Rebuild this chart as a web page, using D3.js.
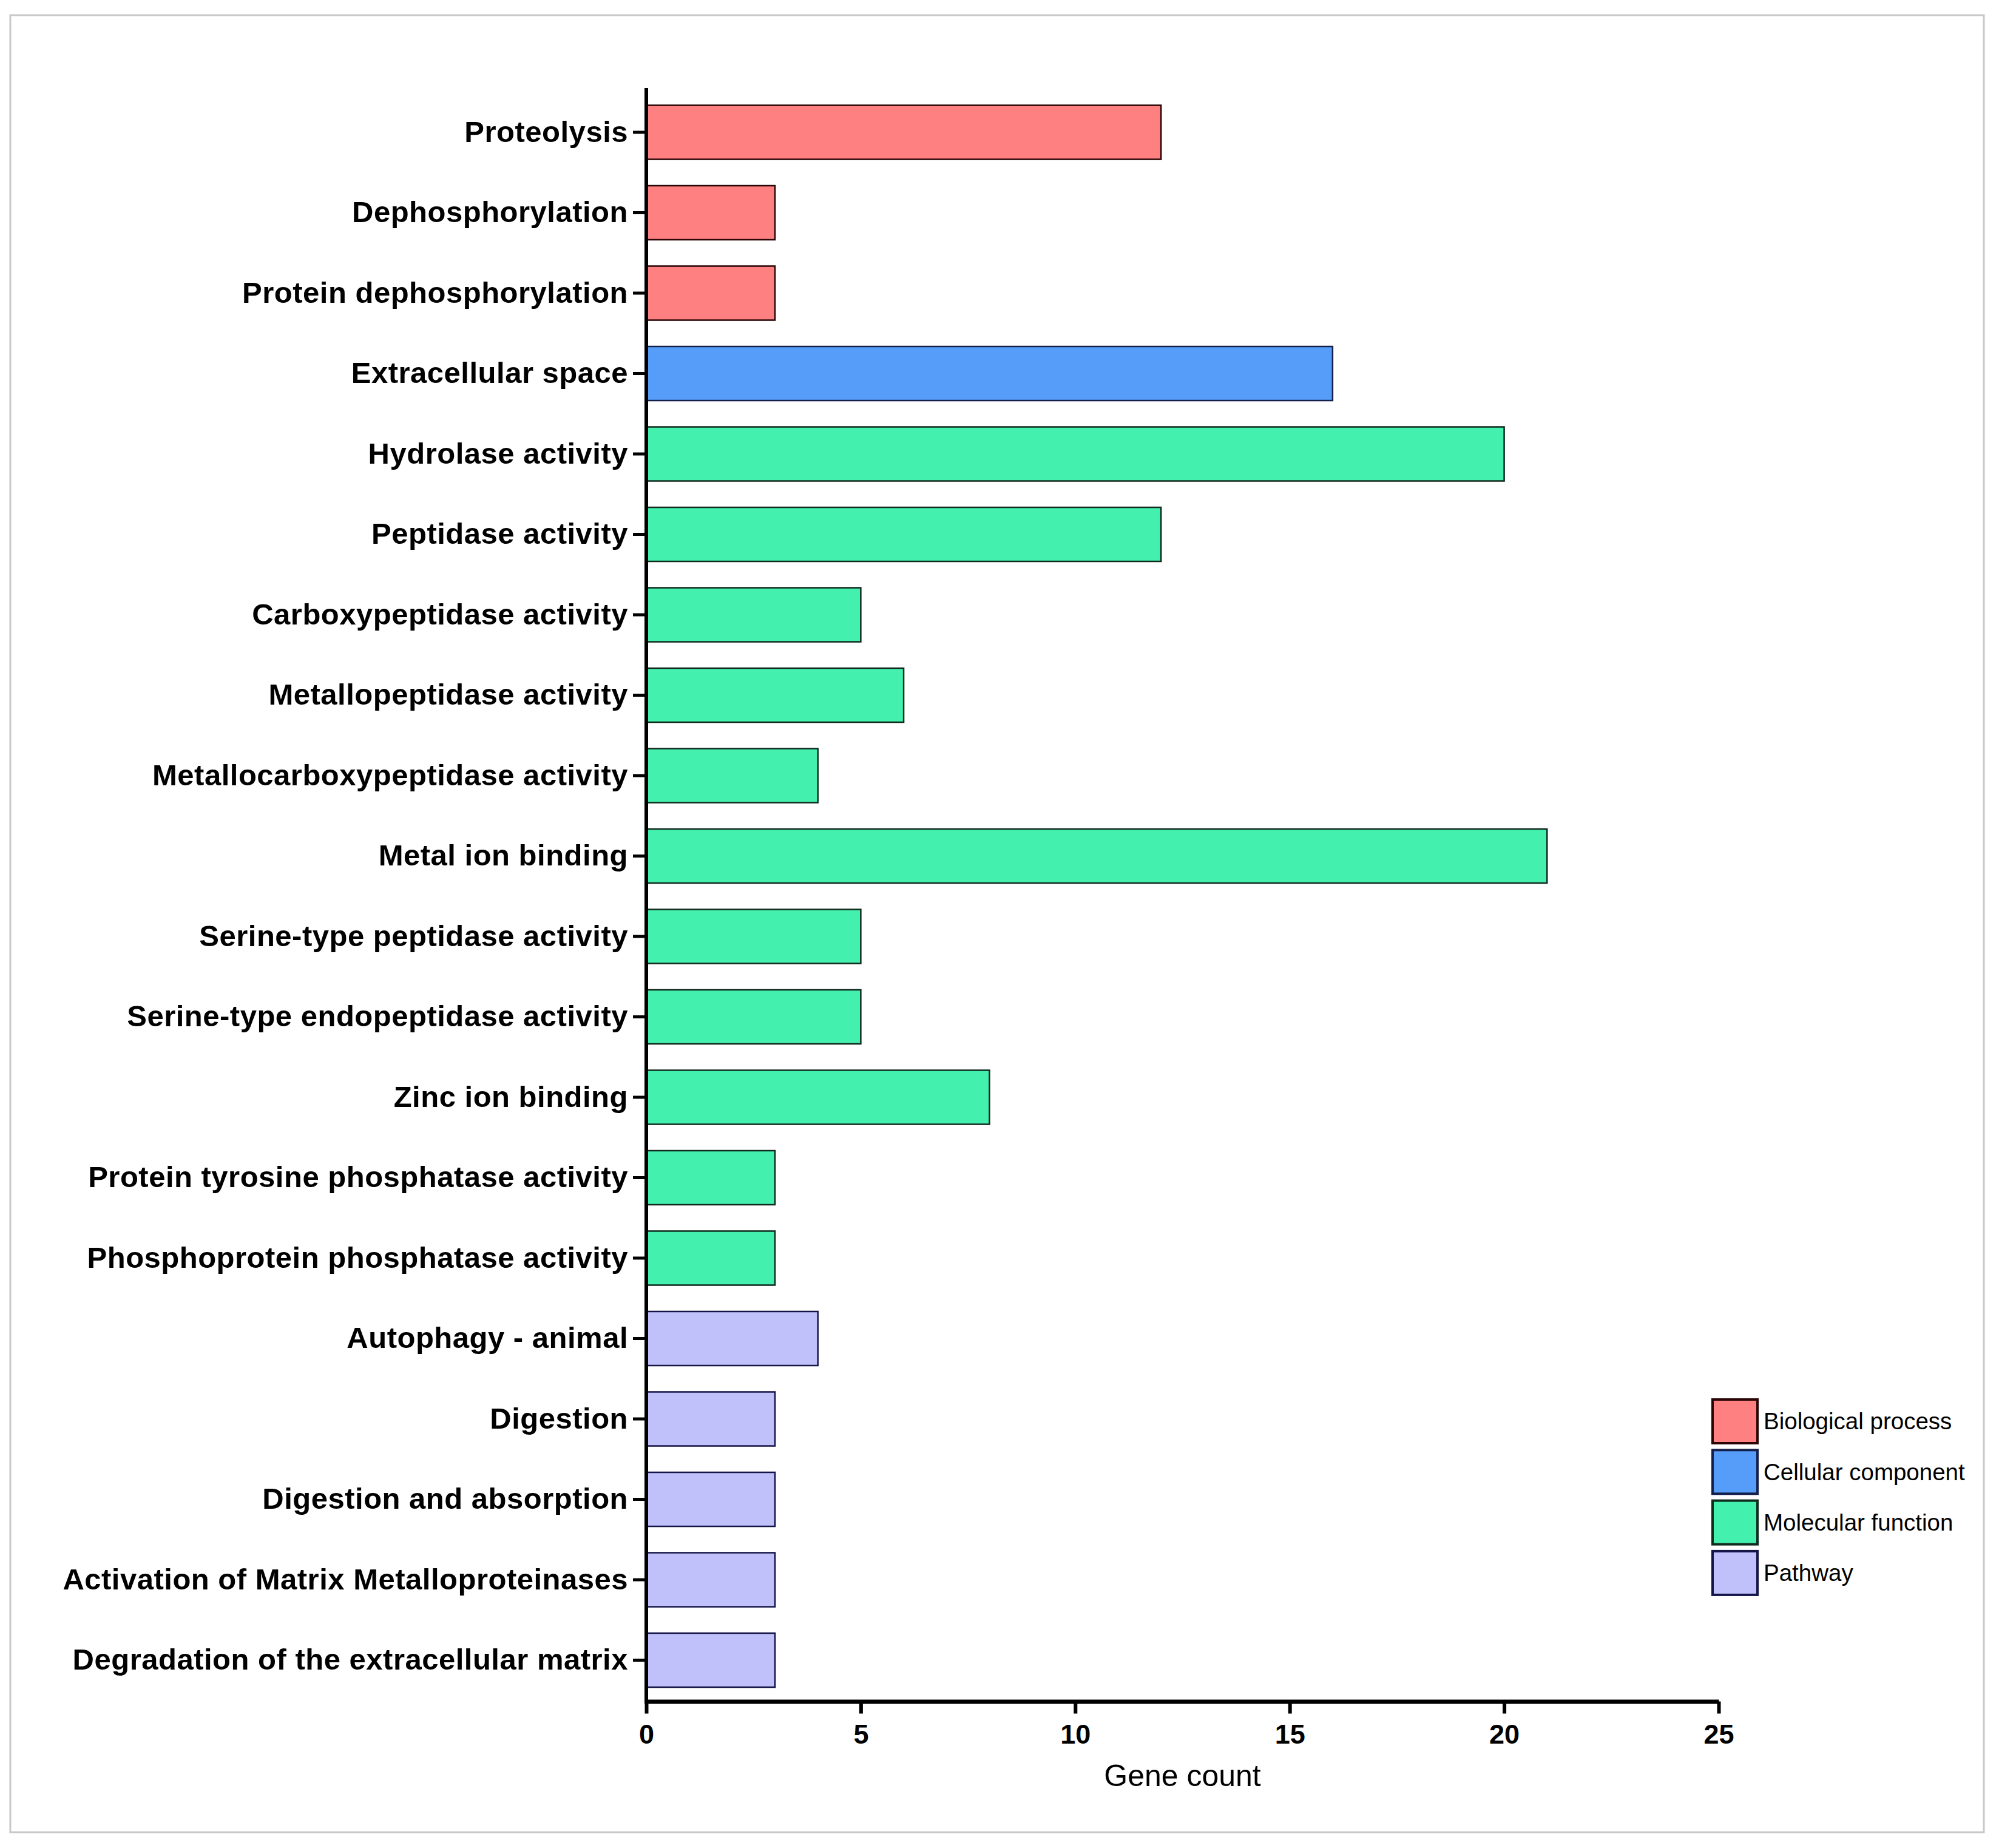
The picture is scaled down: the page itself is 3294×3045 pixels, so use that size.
<!DOCTYPE html>
<html lang="en">

<head>
    <meta charset="utf-8">
    <title>Gene count bar chart</title>
    <script src="https://cdn.jsdelivr.net/npm/d3@7/dist/d3.min.js"></script>
    <style>
        body {
            margin: 0;
            background: #fff;
        }

        text {
            font-family: "Liberation Sans", Arial, sans-serif;
        }
    </style>
</head>

<body>
    <div id="chart"></div>

    <script type="text/javascript">
        var terms = ["Proteolysis", "Dephosphorylation", "Protein dephosphorylation", "Extracellular space",
            "Hydrolase activity", "Peptidase activity", "Carboxypeptidase activity", "Metallopeptidase activity",
            "Metallocarboxypeptidase activity", "Metal ion binding", "Serine-type peptidase activity",
            "Serine-type endopeptidase activity", "Zinc ion binding", "Protein tyrosine phosphatase activity",
            "Phosphoprotein phosphatase activity", "Autophagy - animal", "Digestion", "Digestion and absorption",
            "Activation of Matrix Metalloproteinases", "Degradation of the extracellular matrix"];
        var counts = [12, 3, 3, 16, 20, 12, 5, 6, 4, 21, 5, 5, 8, 3, 3, 4, 3, 3, 3, 3];
        var groups = ["Biological process", "Biological process", "Biological process", "Cellular component",
            "Molecular function", "Molecular function", "Molecular function", "Molecular function",
            "Molecular function", "Molecular function", "Molecular function", "Molecular function",
            "Molecular function", "Molecular function", "Molecular function", "Pathway", "Pathway",
            "Pathway", "Pathway", "Pathway"];
        var groupNames = ["Biological process", "Cellular component", "Molecular function", "Pathway"];
        var xTicks = [0, 5, 10, 15, 20, 25];

        var width = 3294, height = 3045;

        var fillColor = d3.scaleOrdinal()
            .domain(groupNames)
            .range(["#ff8080", "#569dfa", "#44f0ae", "#c0c0fa"]);
        var edgeColor = d3.scaleOrdinal()
            .domain(groupNames)
            .range(["#2a0505", "#14204a", "#102a1e", "#141446"]);

        var svg = d3.select('#chart')
            .append('svg')
            .attr('width', width)
            .attr('height', height);

        // light frame round the figure
        svg.append('rect')
            .attr('x', 17)
            .attr('y', 25)
            .attr('width', 3252)
            .attr('height', 2994)
            .attr('fill', 'none')
            .attr('stroke', '#c8c8c8')
            .attr('stroke-width', 3);

        var xScale = d3.scaleLinear()
            .domain([0, 25])
            .range([1065, 2832]);

        var yScale = d3.scaleBand()
            .domain(terms)
            .range([151.75, 2801.75])
            .paddingInner(0.328)
            .paddingOuter(0.164);

        // bars
        svg.selectAll('.bar')
            .data(terms)
            .enter()
            .append('rect')
            .attr('class', 'bar')
            .attr('x', xScale(0))
            .attr('y', d => yScale(d))
            .attr('width', (d, i) => xScale(counts[i]) - xScale(0))
            .attr('height', yScale.bandwidth())
            .attr('fill', (d, i) => fillColor(groups[i]))
            .attr('stroke', (d, i) => edgeColor(groups[i]))
            .attr('stroke-width', 2.5);

        // y axis
        var yAxis = svg.append('g')
            .attr('transform', 'translate(' + xScale(0) + ',0)')
            .call(d3.axisLeft(yScale).tickSize(22).tickPadding(8));
        yAxis.select('.domain').remove();
        yAxis.selectAll('.tick line')
            .attr('stroke', '#000')
            .attr('stroke-width', 5);
        yAxis.selectAll('.tick text')
            .attr('fill', '#000')
            .style('font-size', '49px')
            .style('letter-spacing', '0.5px')
            .style('font-weight', 'bold');
        svg.append('line')
            .attr('x1', xScale(0))
            .attr('x2', xScale(0))
            .attr('y1', 145)
            .attr('y2', 2807)
            .attr('stroke', '#000')
            .attr('stroke-width', 6);

        // x axis
        var xAxis = svg.append('g')
            .attr('transform', 'translate(0,2803.5)')
            .call(d3.axisBottom(xScale).tickValues(xTicks).tickSize(20).tickSizeOuter(0).tickPadding(18));
        xAxis.select('.domain')
            .attr('stroke', '#000')
            .attr('stroke-width', 7);
        xAxis.selectAll('.tick line')
            .attr('stroke', '#000')
            .attr('stroke-width', 6);
        xAxis.selectAll('.tick text')
            .attr('fill', '#000')
            .style('font-size', '45px')
            .style('font-weight', 'bold');

        svg.append('text')
            .attr('x', (xScale(0) + xScale(25)) / 2)
            .attr('y', 2943)
            .attr('text-anchor', 'middle')
            .style('font-size', '50px')
            .text('Gene count');

        // legend
        var legend = svg.selectAll('.legend')
            .data(groupNames)
            .enter()
            .append('g')
            .attr('class', 'legend')
            .attr('transform', (d, i) => 'translate(2822,' + (2306 + i * 83.3) + ')');
        legend.append('rect')
            .attr('width', 74)
            .attr('height', 72)
            .attr('fill', d => fillColor(d))
            .attr('stroke', d => edgeColor(d))
            .attr('stroke-width', 4);
        legend.append('text')
            .attr('x', 84)
            .attr('y', 36)
            .attr('dy', '0.35em')
            .style('font-size', '38.5px')
            .text(d => d);
    </script>
</body>

</html>
